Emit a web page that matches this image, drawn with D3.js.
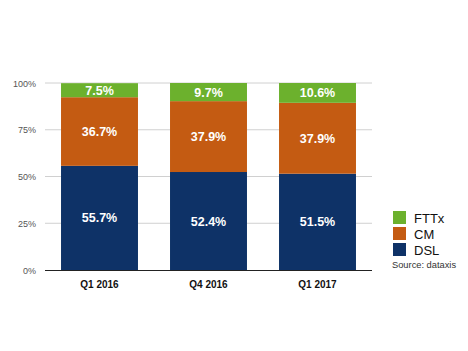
<!DOCTYPE html>
<html><head><meta charset="utf-8">
<script src="https://cdn.jsdelivr.net/npm/d3@7"></script>
<style>body{margin:0;background:#fff}svg{display:block}</style>
</head><body>
<svg id="c" width="468" height="351"></svg>
<script>
const categories = ["Q1 2016", "Q4 2016", "Q1 2017"];
const DSL = [55.7, 52.4, 51.5];
const CM = [36.7, 37.9, 37.9];
const FTTx = [7.5, 9.7, 10.6];
const seriesNames = ["DSL", "CM", "FTTx"];
const colors = {DSL: "#0e3267", CM: "#c45b12", FTTx: "#6cb12d"};
const yTicks = [0, 25, 50, 75, 100];

const svg = d3.select("#c");
const font = "'Liberation Sans', Arial, Helvetica, sans-serif";
const x = d3.scaleBand().domain(categories).range([45, 372]).paddingInner(0.294).paddingOuter(0.147);
const y = d3.scaleLinear().domain([0, 100]).range([270, 83]);

const rows = categories.map((c, i) => ({cat: c, DSL: DSL[i], CM: CM[i], FTTx: FTTx[i]}));
const stack = d3.stack().keys(seriesNames)(rows);

// gridlines
svg.append("g").selectAll("line").data(yTicks.filter(d => d > 0)).join("line")
  .attr("x1", 45).attr("x2", 372).attr("y1", d => y(d)).attr("y2", d => y(d))
  .attr("stroke", "#d0d0d0").attr("stroke-width", 1);

svg.append("g").selectAll("text").data(yTicks).join("text")
  .attr("x", 36).attr("y", d => y(d) + 3.5).attr("text-anchor", "end")
  .attr("font-family", font).attr("font-size", 9).attr("fill", "#555")
  .text(d => d + "%");

stack.forEach(s => {
  svg.append("g").selectAll("rect").data(s).join("rect")
    .attr("x", d => x(d.data.cat)).attr("width", x.bandwidth())
    .attr("y", d => y(d[1])).attr("height", d => y(d[0]) - y(d[1]))
    .attr("fill", colors[s.key]);
  svg.append("g").selectAll("text").data(s).join("text")
    .attr("x", d => x(d.data.cat) + x.bandwidth() / 2)
    .attr("y", d => (y(d[0]) + y(d[1])) / 2 + 4.5)
    .attr("text-anchor", "middle").attr("font-family", font)
    .attr("font-size", 12.5).attr("font-weight", "bold").attr("fill", "#fff")
    .text(d => (d[1] - d[0]).toFixed(1) + "%");
});

// baseline
svg.append("line").attr("x1", 45).attr("x2", 372).attr("y1", 270.5).attr("y2", 270.5)
  .attr("stroke", "#222").attr("stroke-width", 1.2);

svg.append("g").selectAll("text").data(categories).join("text")
  .attr("x", d => x(d) + x.bandwidth() / 2).attr("y", 288)
  .attr("text-anchor", "middle").attr("font-family", font)
  .attr("font-size", 10).attr("font-weight", "bold").attr("fill", "#111")
  .text(d => d);

// legend
const legendOrder = ["FTTx", "CM", "DSL"];
const lg = svg.append("g").selectAll("g").data(legendOrder).join("g")
  .attr("transform", (d, i) => `translate(393,${211 + i * 16})`);
lg.append("rect").attr("width", 13).attr("height", 13).attr("fill", d => colors[d]);
lg.append("text").attr("x", 21).attr("y", 11.5).attr("font-family", font)
  .attr("font-size", 13).attr("fill", "#111").text(d => d);

svg.append("text").attr("x", 392).attr("y", 268).attr("font-family", font)
  .attr("font-size", 9.3).attr("fill", "#333").text("Source: dataxis");
</script>
</body></html>
